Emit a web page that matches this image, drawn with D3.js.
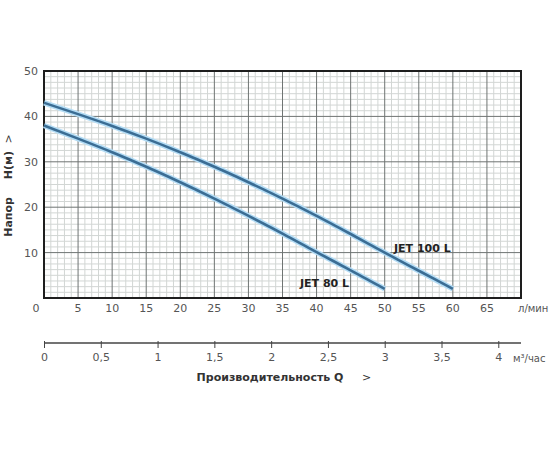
<!DOCTYPE html>
<html>
<head>
<meta charset="utf-8">
<script src="https://cdn.jsdelivr.net/npm/d3@7"></script>
<style>
  body { margin: 0; background: #fff; }
  text { font-family: "DejaVu Sans", Verdana, sans-serif; }
</style>
</head>
<body>
<svg id="chart" width="550" height="450"></svg>
<script>
// data
const flowLmin = [0, 5, 10, 15, 20, 25, 30, 35, 40, 45, 50, 55, 60];
const jet100 = [43, 40.5, 37.9, 35.1, 32.1, 28.9, 25.5, 21.9, 18.1, 14.1, 10, 6, 2];
const jet80 = [38, 35.1, 32.1, 28.9, 25.5, 21.9, 18.1, 14.2, 10.1, 6.1, 2];
const xTicks = [0, 5, 10, 15, 20, 25, 30, 35, 40, 45, 50, 55, 60, 65];
const yTicks = [0, 10, 20, 30, 40, 50];
const m3Ticks = [0, 0.5, 1, 1.5, 2, 2.5, 3, 3.5, 4];
const seriesNames = ["JET 100 L", "JET 80 L"];

const svg = d3.select("#chart");
const plotL = 44, plotR = 521, plotT = 71, plotB = 298;

let x = d3.scaleLinear().domain([0, 70]).range([plotL, plotR]);
let y = d3.scaleLinear().domain([0, 50]).range([plotB, plotT]);
// second flow scale, m3/h (1 m3/h = 16.67 l/min)
let xm3 = d3.scaleLinear().domain([0, 70 / (1000 / 60)]).range([plotL, plotR]);

// minor grid
let g = svg.append("g");
g.selectAll("line.vminor")
    .data(d3.range(1, 70).filter(d => d % 5 != 0))
    .join("line")
    .attr("x1", d => x(d)).attr("x2", d => x(d))
    .attr("y1", plotT).attr("y2", plotB)
    .attr("stroke", "#d2d6d4").attr("stroke-width", 1);
g.selectAll("line.hminor")
    .data(d3.range(1.25, 50, 1.25).filter(d => d % 10 != 0))
    .join("line")
    .attr("y1", d => y(d)).attr("y2", d => y(d))
    .attr("x1", plotL).attr("x2", plotR)
    .attr("stroke", "#d2d6d4").attr("stroke-width", 1);

// major grid
g.selectAll("line.vmajor")
    .data(d3.range(5, 70, 5))
    .join("line")
    .attr("x1", d => x(d)).attr("x2", d => x(d))
    .attr("y1", plotT).attr("y2", plotB)
    .attr("stroke", "#6f7473").attr("stroke-width", 1);
g.selectAll("line.hmajor")
    .data(d3.range(10, 50, 10))
    .join("line")
    .attr("y1", d => y(d)).attr("y2", d => y(d))
    .attr("x1", plotL).attr("x2", plotR)
    .attr("stroke", "#6f7473").attr("stroke-width", 1);

// frame
svg.append("rect")
    .attr("x", plotL).attr("y", plotT)
    .attr("width", plotR - plotL).attr("height", plotB - plotT)
    .attr("fill", "none").attr("stroke", "#1e1e1e").attr("stroke-width", 2);

// curves
let line = d3.line()
    .x((d, i) => x(flowLmin[i]))
    .y(d => y(d))
    .curve(d3.curveMonotoneX);

[jet100, jet80].forEach(function (s) {
    svg.append("path").datum(s)
        .attr("d", line)
        .attr("fill", "none")
        .attr("stroke", "#b3dcf5")
        .attr("stroke-width", 5.5);
    svg.append("path").datum(s)
        .attr("d", line)
        .attr("fill", "none")
        .attr("stroke", "#3b6d94")
        .attr("stroke-width", 2.6);
});

// series labels
svg.append("text").attr("x", 394).attr("y", 252)
    .attr("font-size", 11).attr("font-weight", "bold").attr("fill", "#222")
    .text(seriesNames[0]);
svg.append("text").attr("x", 300).attr("y", 287)
    .attr("font-size", 11).attr("font-weight", "bold").attr("fill", "#222")
    .text(seriesNames[1]);

// y tick labels
svg.selectAll("text.ylab")
    .data(yTicks.filter(d => d > 0))
    .join("text")
    .attr("x", 38).attr("y", d => y(d) + 4)
    .attr("text-anchor", "end")
    .attr("font-size", 11).attr("fill", "#555")
    .text(d => d);

// x tick labels (л/мин)
svg.selectAll("text.xlab")
    .data(xTicks)
    .join("text")
    .attr("x", d => d == 0 ? x(d) - 8 : x(d))
    .attr("y", 312)
    .attr("text-anchor", "middle")
    .attr("font-size", 11).attr("fill", "#555")
    .text(d => d);
svg.append("text").attr("x", 518).attr("y", 312)
    .attr("font-size", 10).attr("fill", "#555")
    .text("л/мин");

// y title
let yt = svg.append("g").attr("transform", "translate(12,0) rotate(-90)");
yt.append("text").attr("x", -217).attr("y", 0).attr("text-anchor", "middle")
    .attr("font-size", 11).attr("font-weight", "bold").attr("fill", "#333").text("Напор");
yt.append("text").attr("x", -165).attr("y", 0).attr("text-anchor", "middle")
    .attr("font-size", 11).attr("font-weight", "bold").attr("fill", "#333").text("H(м)");
yt.append("text").attr("x", -139).attr("y", 0).attr("text-anchor", "middle")
    .attr("font-size", 11).attr("fill", "#333").text(">");

// second axis, m3/h
let axisM3 = d3.axisBottom(xm3)
    .tickValues(m3Ticks)
    .tickSize(5)
    .tickFormat(d => String(d).replace(".", ","));
let ag = svg.append("g").attr("transform", "translate(0,343)").call(axisM3);
ag.select(".domain").attr("stroke", "#444").attr("stroke-width", 1.5)
    .attr("d", "M" + plotL + ",0H" + plotR);
ag.selectAll(".tick line").attr("stroke", "#444").attr("y1", -2);
ag.selectAll(".tick text")
    .attr("font-family", "DejaVu Sans, sans-serif")
    .attr("font-size", 11).attr("fill", "#555").attr("dy", "0.95em");

svg.append("text").attr("x", 513).attr("y", 362)
    .attr("font-size", 10).attr("fill", "#555")
    .text("м³/час");

svg.append("text").attr("x", 270).attr("y", 381)
    .attr("text-anchor", "middle")
    .attr("font-size", 11).attr("font-weight", "bold").attr("fill", "#333")
    .text("Производительность Q");
svg.append("text").attr("x", 362).attr("y", 381)
    .attr("font-size", 11).attr("fill", "#333")
    .text(">");
</script>
</body>
</html>
